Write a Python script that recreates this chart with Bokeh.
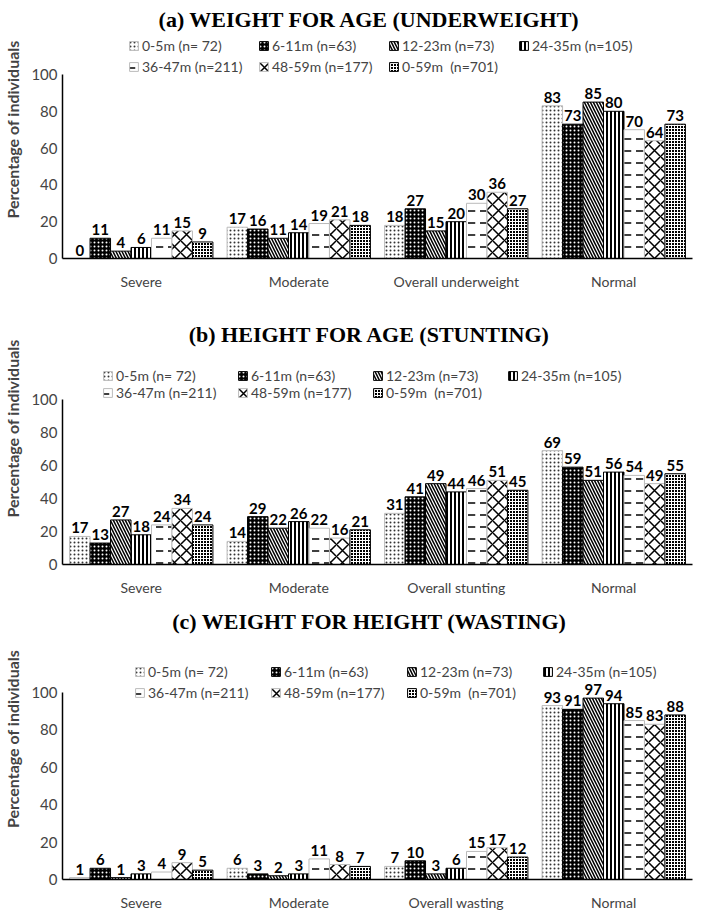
from bokeh.plotting import figure
from bokeh.models import ColumnDataSource, FactorRange, Legend, LegendItem, Range1d, FixedTicker, Label
from bokeh.transform import dodge
from bokeh.layouts import column
from bokeh.embed import file_html
from bokeh.resources import INLINE
from bokeh.core.properties import value

groups = ["0-5m (n= 72)", "6-11m (n=63)", "12-23m (n=73)", "24-35m (n=105)",
          "36-47m (n=211)", "48-59m (n=177)", "0-59m  (n=701)"]

# (a) Weight for age
cats_a = ["Severe", "Moderate", "Overall underweight", "Normal"]
wfa_0_5m = [0, 17, 18, 83]
wfa_6_11m = [11, 16, 27, 73]
wfa_12_23m = [4, 11, 15, 85]
wfa_24_35m = [6, 14, 20, 80]
wfa_36_47m = [11, 19, 30, 70]
wfa_48_59m = [15, 21, 36, 64]
wfa_0_59m = [9, 18, 27, 73]

# (b) Height for age
cats_b = ["Severe", "Moderate", "Overall stunting", "Normal"]
hfa_0_5m = [17, 14, 31, 69]
hfa_6_11m = [13, 29, 41, 59]
hfa_12_23m = [27, 22, 49, 51]
hfa_24_35m = [18, 26, 44, 56]
hfa_36_47m = [24, 22, 46, 54]
hfa_48_59m = [34, 16, 51, 49]
hfa_0_59m = [24, 21, 45, 55]

# (c) Weight for height
cats_c = ["Severe", "Moderate", "Overall wasting", "Normal"]
wfh_0_5m = [1, 6, 7, 93]
wfh_6_11m = [6, 3, 10, 91]
wfh_12_23m = [1, 2, 3, 97]
wfh_24_35m = [3, 3, 6, 94]
wfh_36_47m = [4, 11, 15, 85]
wfh_48_59m = [9, 8, 17, 83]
wfh_0_59m = [5, 7, 12, 88]

y_ticks = [0, 20, 40, 60, 80, 100]
y_title = "Percentage of individuals"

styles = [
    dict(fill_color="white", hatch_pattern="dot", hatch_color="#333333", hatch_scale=4, hatch_weight=1, line_color="#bbbbbb"),
    dict(fill_color="black", hatch_pattern="dot", hatch_color="white", hatch_scale=4, hatch_weight=1, line_color="black"),
    dict(fill_color="white", hatch_pattern="left_diagonal_line", hatch_color="black", hatch_scale=6, hatch_weight=1.5, line_color="black"),
    dict(fill_color="white", hatch_pattern="vertical_line", hatch_color="black", hatch_scale=4, hatch_weight=2, line_color="black"),
    dict(fill_color="white", hatch_pattern="horizontal_dash", hatch_color="black", hatch_scale=12, hatch_weight=1.5, line_color="#bbbbbb"),
    dict(fill_color="white", hatch_pattern="diagonal_cross", hatch_color="black", hatch_scale=12, hatch_weight=1.5, line_color="#bbbbbb"),
    dict(fill_color="black", hatch_pattern="cross", hatch_color="white", hatch_scale=3, hatch_weight=1, line_color="black"),
]

FONT = "Lato"
BAR_W = 0.13


def make_panel(title, cats, series, frame_h, px_per_unit,
               title_top, leg_x, r2_top, leg_spacing, leg_col):
    y_end = frame_h / px_per_unit
    p = figure(x_range=FactorRange(factors=cats), y_range=Range1d(0, y_end),
               frame_width=630, frame_height=frame_h,
               output_backend="svg", toolbar_location=None,
               min_border_left=58, min_border_right=2,
               min_border_top=0, min_border_bottom=0)
    p.outline_line_color = None
    p.xgrid.grid_line_color = None
    p.ygrid.grid_line_color = None

    p.add_layout(Label(x=1.95, y=frame_h - title_top, x_units="data", y_units="screen",
                       text=title, text_align="center", text_baseline="middle",
                       text_font="Liberation Serif", text_font_style="bold",
                       text_font_size="22px", text_color="black"))

    data = {"cats": cats}
    for i, s in enumerate(series):
        data[f"s{i}"] = s
        data[f"t{i}"] = [str(v) for v in s]
    src = ColumnDataSource(data)

    items = []
    n = len(series)
    for i in range(n):
        off = (i - (n - 1) / 2) * BAR_W
        st = styles[i]
        r = p.vbar(x=dodge("cats", off, range=p.x_range), top=f"s{i}", width=BAR_W,
                   source=src, line_width=1, **st)
        p.text(x=dodge("cats", off, range=p.x_range), y=f"s{i}", text=f"t{i}", source=src,
               text_font=value(FONT), text_font_style="bold", text_font_size=value("15px"),
               text_align="center", text_baseline="bottom", y_offset=-3, text_color="black")
        items.append(LegendItem(label=groups[i], renderers=[r]))

    leg = Legend(items=items, orientation="horizontal", ncols=4,
                 location=(leg_x, frame_h - (r2_top + 10)),
                 border_line_color=None, background_fill_alpha=0,
                 label_text_font=FONT, label_text_font_size="14px",
                 glyph_width=11, glyph_height=11, label_standoff=3, spacing=leg_spacing,
                 label_width=leg_col - 14 - leg_spacing,
                 padding=0, margin=0, label_height=13)
    p.add_layout(leg, "center")

    p.yaxis.ticker = FixedTicker(ticks=y_ticks)
    p.yaxis.bounds = (0, 100)
    p.yaxis.axis_label = y_title
    p.yaxis.axis_label_text_font = FONT
    p.yaxis.axis_label_text_font_style = "bold"
    p.yaxis.axis_label_text_font_size = "16px"
    p.yaxis.axis_label_standoff = 6
    p.yaxis.major_label_text_font = FONT
    p.yaxis.major_label_text_font_size = "15px"
    p.yaxis.major_tick_line_color = None
    p.yaxis.major_tick_out = 0
    p.yaxis.major_tick_in = 0
    p.yaxis.minor_tick_line_color = None
    p.yaxis.minor_tick_out = 0
    p.yaxis.axis_line_color = "black"
    p.yaxis.axis_line_width = 1.5

    p.xaxis.major_label_text_font = FONT
    p.xaxis.major_label_text_font_size = "14px"
    p.xaxis.major_tick_line_color = None
    p.xaxis.major_tick_out = 0
    p.xaxis.major_tick_in = 0
    p.xaxis.axis_line_color = "black"
    p.xaxis.axis_line_width = 1.5
    p.xaxis.major_label_standoff = 14
    return p


pa = make_panel("(a) WEIGHT FOR AGE (UNDERWEIGHT)", cats_a,
                [wfa_0_5m, wfa_6_11m, wfa_12_23m, wfa_24_35m, wfa_36_47m, wfa_48_59m, wfa_0_59m],
                258, 1.84, 19, 66, 65, 4, 130)
pb = make_panel("(b) HEIGHT FOR AGE (STUNTING)", cats_b,
                [hfa_0_5m, hfa_6_11m, hfa_12_23m, hfa_24_35m, hfa_36_47m, hfa_48_59m, hfa_0_59m],
                272, 1.65, 42, 40, 99, 0, 135)
pc = make_panel("(c) WEIGHT FOR HEIGHT (WASTING)", cats_c,
                [wfh_0_5m, wfh_6_11m, wfh_12_23m, wfh_24_35m, wfh_36_47m, wfh_48_59m, wfh_0_59m],
                281, 1.87, 23, 72, 93, 4, 136)

layout = column(pa, pb, pc, spacing=0)
open("out.html", "w").write(file_html(layout, INLINE))
